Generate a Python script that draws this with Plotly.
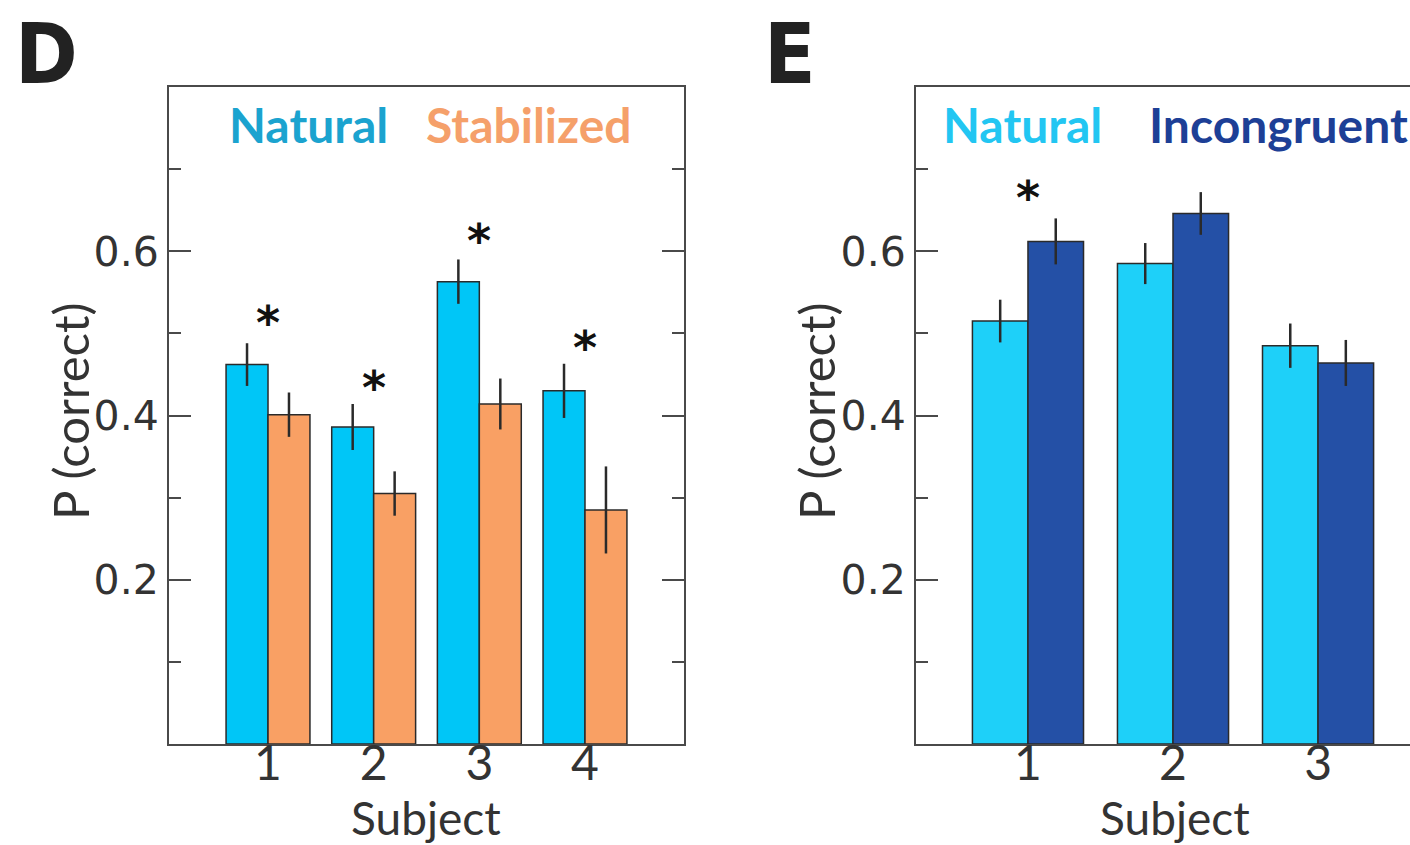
import plotly.graph_objects as go

W, H = 1410, 845

# ---------------- data ----------------
subjects_d = [1, 2, 3, 4]
natural_d = [0.462, 0.386, 0.563, 0.430]
natural_d_err = [0.026, 0.028, 0.027, 0.033]
stabilized_d = [0.401, 0.305, 0.414, 0.285]
stabilized_d_err = [0.027, 0.027, 0.031, 0.053]
star_d_x = [1, 2, 3, 4]
star_d_y = [0.523, 0.445, 0.624, 0.493]

subjects_e = [1, 2, 3]
natural_e = [0.515, 0.585, 0.485]
natural_e_err = [0.026, 0.025, 0.027]
incongruent_e = [0.612, 0.646, 0.464]
incongruent_e_err = [0.028, 0.026, 0.028]
star_e_x = [1]
star_e_y = [0.676]

y_tick_vals = [0.2, 0.4, 0.6]
y_tick_text = ["0.2", "0.4", "0.6"]
y_minor_vals = [0.1, 0.3, 0.5, 0.7]

# ---------------- style ----------------
C_NAT_D = "#00C6F7"
C_STAB_D = "#F9A064"
C_NAT_E = "#1ED0F9"
C_INC_E = "#2450A6"
EDGE = "#2a2a2a"
AXC = "#4a4a4a"
TXT = "#333333"
LABEL_FONT = "Lato"
TICK_FONT = "DejaVu Sans"

def px_x(v):
    return v / W

def px_y(v):
    return 1 - v / H

bw_d = 0.397
bw_e = 0.383

fig = go.Figure()

def add_bars(x, y, err, color, width, offset, xa, ya):
    fig.add_trace(go.Bar(
        x=x, y=y, width=width, offset=offset,
        marker=dict(color=color, line=dict(color=EDGE, width=1.5)),
        error_y=dict(type="data", array=err, visible=True, color="#2a2a2a",
                     thickness=2.5, width=0),
        xaxis=xa, yaxis=ya, showlegend=False, hoverinfo="skip"))

add_bars(subjects_d, natural_d, natural_d_err, C_NAT_D, bw_d, -bw_d, "x", "y")
add_bars(subjects_d, stabilized_d, stabilized_d_err, C_STAB_D, bw_d, 0, "x", "y")
add_bars(subjects_e, natural_e, natural_e_err, C_NAT_E, bw_e, -bw_e, "x2", "y2")
add_bars(subjects_e, incongruent_e, incongruent_e_err, C_INC_E, bw_e, 0, "x2", "y2")

ydom = [px_y(744), px_y(87)]

def yaxis_cfg(anchor, mirror):
    return dict(
        domain=ydom, range=[0, 0.8], anchor=anchor,
        showline=True, linecolor=AXC, linewidth=2, mirror=mirror,
        showgrid=False, zeroline=False,
        ticks="inside", ticklen=22, tickwidth=2, tickcolor=AXC,
        tickvals=y_tick_vals, ticktext=y_tick_text,
        tickfont=dict(family=TICK_FONT, size=41, color=TXT),
        minor=dict(tickvals=y_minor_vals, ticks="inside", ticklen=12,
                   tickwidth=2, tickcolor=AXC, showgrid=False),
    )

def xaxis_cfg(dom, rng, anchor, vals):
    return dict(
        domain=dom, range=rng, anchor=anchor,
        showline=True, linecolor=AXC, linewidth=2, mirror=True,
        showgrid=False, zeroline=False, ticks="",
        tickvals=vals, ticktext=[str(v) for v in vals],
        tickfont=dict(family=LABEL_FONT, size=48, color=TXT),
        ticklabelstandoff=-24,
    )

fig.update_layout(
    width=W, height=H,
    margin=dict(l=0, r=0, t=0, b=0),
    paper_bgcolor="white", plot_bgcolor="white",
    barmode="overlay",
    xaxis=xaxis_cfg([px_x(169), px_x(684)], [0.063, 4.937], "y", subjects_d),
    yaxis=yaxis_cfg("x", "ticks"),
    xaxis2=xaxis_cfg([px_x(916), 1.0], [0.228, 3.634], "y2", subjects_e),
    yaxis2=yaxis_cfg("x2", False),
)

ann = []
def text(x, y, s, size, color, family=LABEL_FONT, bold=False, angle=0, xanchor="center"):
    ann.append(dict(x=px_x(x), y=px_y(y), xref="paper", yref="paper", text=(f"<b>{s}</b>" if bold else s),
                    showarrow=False, textangle=angle, xanchor=xanchor, yanchor="middle",
                    font=dict(family=family, size=size, color=color)))

# significance stars (data coordinates)
for xs, ys, xr, yr in [(star_d_x, star_d_y, "x", "y"), (star_e_x, star_e_y, "x2", "y2")]:
    for sx, sy in zip(xs, ys):
        ann.append(dict(x=sx, y=sy, xref=xr, yref=yr, text="<b>*</b>", showarrow=False,
                        xanchor="center", yanchor="middle", yshift=-9,
                        font=dict(family="DejaVu Sans", size=46, color="#111111")))

# panel letters
text(46, 54, "D", 84, "#222222", family="DejaVu Sans Condensed", bold=True)
text(790, 54, "E", 84, "#222222", family="DejaVu Sans Condensed", bold=True)
# in-plot legends
text(227, 124, "Natural", 48, "#1BA3CF", bold=True, xanchor="left")
text(424, 124, "Stabilized", 48, "#F5A06A", bold=True, xanchor="left")
text(941, 124, "Natural", 48, "#22C6F2", bold=True, xanchor="left")
text(1147, 124, "Incongruent", 48, "#1D3F96", bold=True, xanchor="left")
# axis titles
text(70, 411, "P (correct)", 49, TXT, angle=-90)
text(816, 411, "P (correct)", 49, TXT, angle=-90)
text(426, 817, "Subject", 46, TXT)
text(1175, 817, "Subject", 46, TXT)

fig.update_layout(annotations=ann)

fig.write_html("out.html")
